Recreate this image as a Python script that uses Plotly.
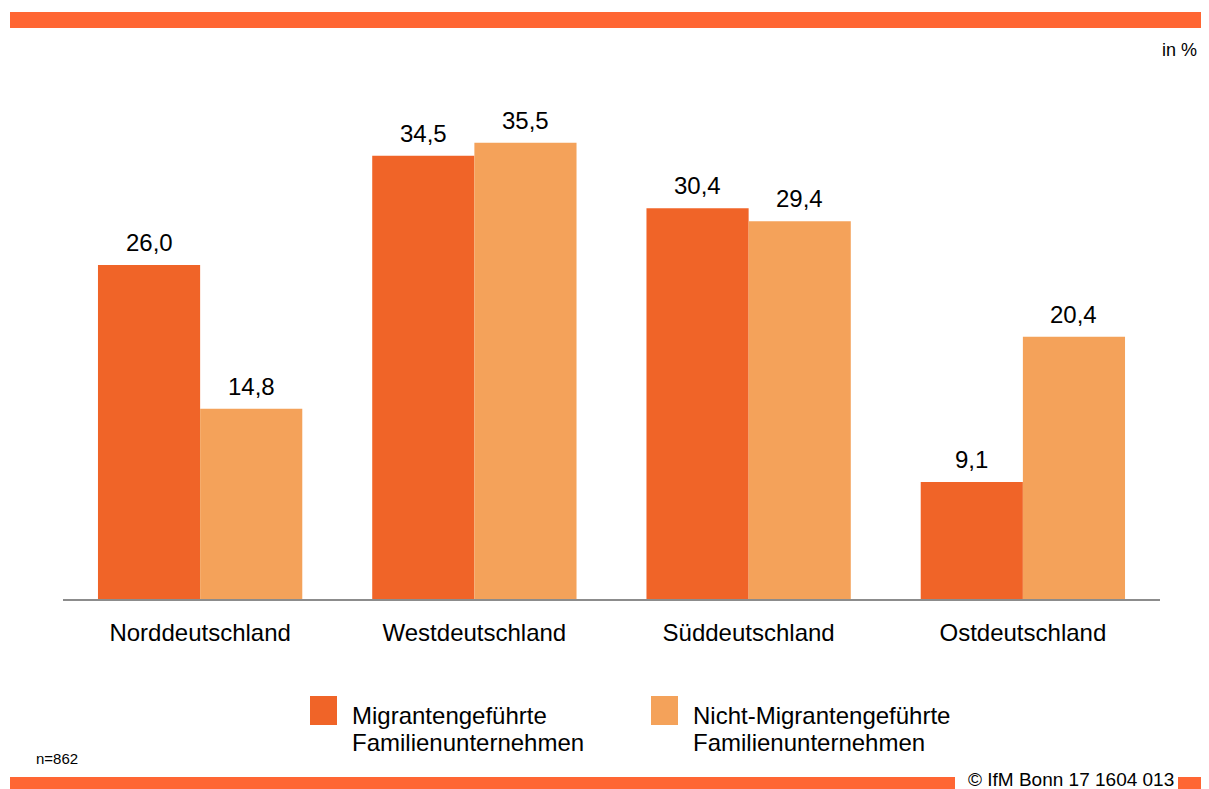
import plotly.graph_objects as go

categories = ["Norddeutschland", "Westdeutschland", "Süddeutschland", "Ostdeutschland"]
series_names = ["Migrantengeführte<br>Familienunternehmen", "Nicht-Migrantengeführte<br>Familienunternehmen"]
migrant_values = [26.0, 34.5, 30.4, 9.1]
non_migrant_values = [14.8, 35.5, 29.4, 20.4]
colors = ["#F06428", "#F4A25A"]
unit_label = "in %"
sample_label = "n=862"
source_label = "© IfM Bonn 17 1604 013"

FONT = "Arial, Liberation Sans, sans-serif"
fmt = lambda v: f"{v:.1f}".replace(".", ",")

# page offset (body margin) compensation
OFF = 8
W, H = 1209 - OFF, 789 - OFF
PL, PR, PT, PB = 63, 1160, 85, 599  # plot area in page pixels


def px(x):
    return (x - PL) / (PR - PL)


def py(y):
    return (PB - y) / (PB - PT)


fig = go.Figure()
for name, vals, col in zip(series_names, [migrant_values, non_migrant_values], colors):
    fig.add_trace(go.Bar(x=categories, y=vals, name=name, marker=dict(color=col, line=dict(width=0)),
                         showlegend=False, hoverinfo="skip"))

annotations = []
for vals, shift in [(migrant_values, -51), (non_migrant_values, 51)]:
    for c, v in zip(categories, vals):
        annotations.append(dict(x=c, y=v, xref="x", yref="y", text=fmt(v), showarrow=False,
                                xshift=shift, yshift=7, yanchor="bottom",
                                font=dict(size=24, color="#000000", family=FONT)))

# legend (manual)
leg_x = [310, 651]
for lx, name, col in zip(leg_x, series_names, colors):
    for i, line in enumerate(name.split("<br>")):
        annotations.append(dict(x=px(lx + 40), y=py(715 + 27 * i), xref="paper", yref="paper",
                                text=line, showarrow=False, xanchor="left", yanchor="middle",
                                font=dict(size=24, color="#000000", family=FONT)))

annotations += [
    dict(x=px(1199), y=py(50), xref="paper", yref="paper", text=unit_label, showarrow=False,
         xanchor="right", yanchor="middle", font=dict(size=18, color="#000000", family=FONT)),
    dict(x=px(34), y=py(758), xref="paper", yref="paper", text=sample_label, showarrow=False,
         xanchor="left", yanchor="middle", font=dict(size=15, color="#000000", family=FONT)),
    dict(x=px(1175), y=py(779), xref="paper", yref="paper", text=source_label, showarrow=False,
         xanchor="right", yanchor="middle", borderpad=0,
         font=dict(size=19, color="#000000", family=FONT)),
]


def prect(x0, y0, x1, y1, col):
    return dict(type="rect", xref="paper", yref="paper", x0=px(x0), x1=px(x1),
                y0=py(y1), y1=py(y0), fillcolor=col, line=dict(width=0), layer="above")


shapes = [
    prect(10, 12, 1209, 28, "#FF6633"),
    prect(10, 777, 955, 789, "#FF6633"),
    prect(1178, 777, 1209, 789, "#FF6633"),
]
for lx, col in zip(leg_x, colors):
    shapes.append(prect(lx, 696, lx + 27, 725, col))

fig.update_layout(
    width=W, height=H,
    margin=dict(l=PL - OFF, r=W - (PR - OFF), t=PT - OFF, b=H - (PB - OFF), pad=0),
    paper_bgcolor="white", plot_bgcolor="white",
    barmode="group", bargap=0.255, bargroupgap=0,
    font=dict(family=FONT, color="#000000"),
    xaxis=dict(showline=True, linecolor="#8C8C8C", linewidth=2, ticks="", showgrid=False,
               tickfont=dict(size=24, family=FONT, color="#000000"), ticklabelstandoff=11),
    yaxis=dict(range=[0, 40], visible=False, showgrid=False, zeroline=False),
    annotations=annotations, shapes=shapes,
)

fig.write_html("out.html")
